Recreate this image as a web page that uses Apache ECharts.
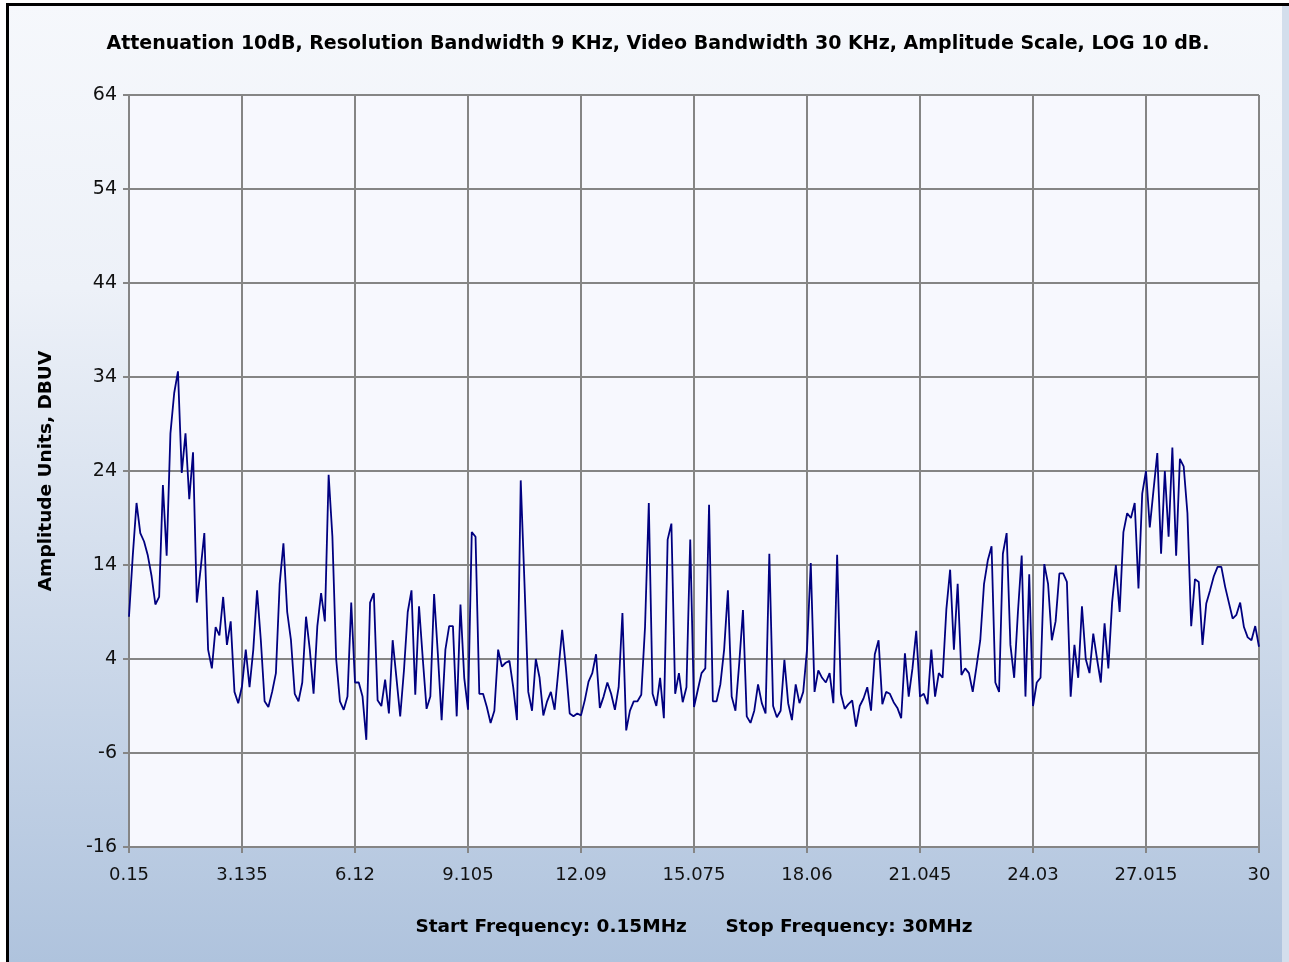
<!DOCTYPE html>
<html><head><meta charset="utf-8">
<script src="https://cdn.jsdelivr.net/npm/echarts@6/dist/echarts.min.js"></script>
<style>html,body{margin:0;padding:0;background:#fff}#chart{width:1289px;height:962px}</style>
</head><body><div id="chart"></div>
<script>
// Sweep settings (MHz)
const startFreq = 0.15;
const stopFreq = 30;
// Measured amplitude along the sweep (dBuV), one value per sweep point
const amplitude = [
  8.5, 15, 20.6, 17.4, 16.5, 15, 12.8, 9.8, 10.6, 22.5,
  15, 28, 32.3, 34.6, 23.8, 28, 21, 26, 10, 13.5,
  17.4, 5, 3, 7.4, 6.5, 10.6, 5.5, 8, 0.5, -0.7,
  1.1, 5, 1, 5, 11.3, 6, -0.5, -1.1, 0.5, 2.5,
  12, 16.3, 9, 6, 0.3, -0.5, 1.5, 8.5, 5, 0.3,
  7.5, 11, 8, 23.6, 17, 4, -0.5, -1.4, 0, 10,
  1.5, 1.5, 0, -4.6, 10, 11, -0.4, -1, 1.8, -1.8,
  6, 2, -2.1, 2.8, 9, 11.3, 0.2, 9.6, 4, -1.3,
  0, 10.9, 4.5, -2.5, 5, 7.5, 7.5, -2.1, 9.8, 2,
  -1.4, 17.5, 17, 0.3, 0.3, -1.1, -2.8, -1.5, 5, 3.2,
  3.6, 3.8, 1, -2.5, 23, 12, 0.5, -1.5, 4, 2,
  -2, -0.5, 0.5, -1.4, 2.8, 7.1, 3, -1.8, -2.1, -1.8,
  -2, -0.4, 1.6, 2.5, 4.5, -1.2, 0, 1.5, 0.3, -1.4,
  1, 8.9, -3.6, -1.5, -0.5, -0.5, 0.2, 7.4, 20.6, 0.3,
  -1, 2, -2.3, 16.7, 18.4, 0.3, 2.5, -0.6, 1, 16.7,
  -1.1, 0.7, 2.5, 3, 20.4, -0.5, -0.5, 1.3, 5, 11.3,
  0, -1.5, 3.5, 9.2, -2.1, -2.8, -1.5, 1.3, -0.7, -1.8,
  15.2, -1, -2.2, -1.5, 3.9, -0.7, -2.5, 1.3, -0.7, 0.5,
  5, 14.2, 0.5, 2.8, 2, 1.5, 2.5, -0.7, 15.1, 0.3,
  -1.3, -0.8, -0.4, -3.2, -1, -0.2, 1, -1.5, 4.5, 6,
  -0.8, 0.5, 0.3, -0.6, -1.2, -2.3, 4.6, 0, 3, 7,
  0, 0.3, -0.8, 5, 0, 2.5, 2, 9.3, 13.5, 5,
  12, 2.3, 3, 2.5, 0.5, 3.2, 6, 12, 14.5, 16,
  1.5, 0.5, 15.2, 17.4, 5.5, 2, 9, 15, 0, 13,
  -1, 1.5, 2, 14.1, 12, 6, 8, 13.1, 13.1, 12.2,
  0, 5.5, 2, 9.6, 4, 2.5, 6.7, 4, 1.5, 7.8,
  3, 10, 14, 9, 17.5, 19.5, 19, 20.6, 11.5, 21.6,
  24, 18, 22, 25.9, 15.2, 24, 17, 26.5, 15, 25.3,
  24.5, 19.5, 7.5, 12.5, 12.2, 5.5, 9.9, 11.3, 12.8, 13.8,
  13.8, 11.7, 10, 8.3, 8.7, 10, 7.4, 6.3, 6, 7.5,
  5.3
];
// Tick labels
const xTickLabels = ['0.15', '3.135', '6.12', '9.105', '12.09', '15.075', '18.06', '21.045', '24.03', '27.015', '30'];
const yMin = -16, yMax = 64, yStep = 10;
// Texts
const titleText = 'Attenuation 10dB, Resolution Bandwidth 9 KHz, Video Bandwidth 30 KHz, Amplitude Scale, LOG 10 dB.';
const yAxisTitle = 'Amplitude Units, DBUV';
const xAxisTitle = 'Start Frequency: 0.15MHz      Stop Frequency: 30MHz';

const nPts = amplitude.length;
const sweepStep = (stopFreq - startFreq) / (nPts - 1);
const freqs = amplitude.map((_, i) => +(startFreq + i * sweepStep).toFixed(4));
const labelEvery = (nPts - 1) / (xTickLabels.length - 1);
const isMajor = (idx) => idx % labelEvery === 0;

const gridColor = '#858585';
const chart = echarts.init(document.getElementById('chart'));
chart.setOption({
  animation: false,
  backgroundColor: {
    type: 'linear', x: 0, y: 0, x2: 0, y2: 1,
    colorStops: [
      { offset: 0, color: '#F6F8FC' },
      { offset: 0.3, color: '#EDF1F8' },
      { offset: 1, color: '#AFC3DD' }
    ]
  },
  graphic: [
    { type: 'rect', left: 0, top: 0, shape: { width: 6, height: 962 }, style: { fill: '#ffffff' }, z: 100 },
    { type: 'rect', left: 0, top: 0, shape: { width: 1289, height: 3 }, style: { fill: '#ffffff' }, z: 100 },
    { type: 'rect', left: 1282, top: 6, shape: { width: 7, height: 956 }, style: { fill: '#D3DEEC' }, z: 100 },
    { type: 'rect', left: 6, top: 3, shape: { width: 3, height: 959 }, style: { fill: '#000000' }, z: 101 },
    { type: 'rect', left: 6, top: 3, shape: { width: 1283, height: 3 }, style: { fill: '#000000' }, z: 101 },
    {
      type: 'text', x: 658, y: 44, z: 50,
      style: { text: titleText, fill: '#000', font: 'bold 19px "DejaVu Sans"', align: 'center', verticalAlign: 'middle' }
    }
  ],
  grid: {
    left: 129, right: 30, top: 95, bottom: 115,
    show: true, backgroundColor: '#F7F8FE', borderWidth: 0
  },
  xAxis: {
    type: 'category',
    data: freqs,
    boundaryGap: false,
    name: xAxisTitle,
    nameLocation: 'middle',
    nameGap: 71,
    nameTextStyle: { fontFamily: 'DejaVu Sans', fontWeight: 'bold', fontSize: 18.5, color: '#000' },
    axisLine: { onZero: false, lineStyle: { color: gridColor, width: 2 } },
    axisTick: { show: true, interval: (i) => isMajor(i), length: 6, lineStyle: { color: gridColor, width: 2 } },
    axisLabel: {
      interval: (i) => isMajor(i),
      formatter: (v, i) => xTickLabels[Math.round(i / labelEvery)],
      margin: 19,
      fontFamily: 'DejaVu Sans', fontSize: 18, color: '#111'
    },
    splitLine: { show: true, interval: (i) => isMajor(i), lineStyle: { color: gridColor, width: 2 } }
  },
  yAxis: {
    type: 'value',
    min: yMin, max: yMax, interval: yStep,
    name: yAxisTitle,
    nameLocation: 'middle',
    nameGap: 73,
    nameRotate: 90,
    nameTextStyle: { fontFamily: 'DejaVu Sans', fontWeight: 'bold', fontSize: 18.5, color: '#000' },
    axisLine: { show: true, lineStyle: { color: gridColor, width: 2 } },
    axisTick: { show: true, length: 6, lineStyle: { color: gridColor, width: 2 } },
    axisLabel: { margin: 12, fontFamily: 'DejaVu Sans', fontSize: 19, color: '#111' },
    splitLine: { show: true, lineStyle: { color: gridColor, width: 2 } }
  },
  series: [{
    type: 'line',
    data: amplitude,
    showSymbol: false,
    lineStyle: { color: '#000080', width: 1.8 },
    emphasis: { disabled: true }
  }]
});
</script>
</body></html>
